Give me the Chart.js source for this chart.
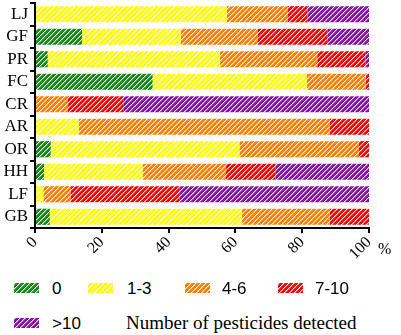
<!DOCTYPE html>
<html>
<head>
<meta charset="utf-8">
<script src="https://cdn.jsdelivr.net/npm/chart.js@4"></script>
<style>
  body { margin: 0; background: #fff; }
  #wrap { position: relative; width: 401px; height: 335px; }
  #chart { position: absolute; left: 0; top: 0; }
  .lg { position: absolute; font: 17px "Liberation Sans", Arial, sans-serif; color: #000; line-height: 17px; }
  .sw { position: absolute; width: 25px; height: 10px; }
  .serif { font-family: "Liberation Serif", "Times New Roman", serif; }
</style>
</head>
<body>
<div id="wrap">
  <canvas id="chart" width="401" height="265"></canvas>
  <div class="lg serif" style="left:378px; top:240px; font-size:16px;">%</div>
  <div id="legend"></div>
</div>
<script>
const sites = ['LJ', 'GF', 'PR', 'FC', 'CR', 'AR', 'OR', 'HH', 'LF', 'GB'];
const groups = ['0', '1-3', '4-6', '7-10', '>10'];
const colors = ['#138a13', '#ffff00', '#ff8000', '#ff0000', '#8a10a8'];

// percent of samples per site, for each number-of-pesticides group
const zero     = [0,    14.1, 3.8,  35.2, 0,    0,    4.7,  2.7,  0,    4.4];
const oneThree = [57.4, 29.5, 51.6, 46.2, 0,    13.1, 56.5, 29.5, 2.5,  57.6];
const fourSix  = [18.2, 23.0, 29.1, 17.6, 9.9,  75.2, 35.8, 25.0, 8.1,  26.3];
const sevenTen = [6.0,  21.0, 14.5, 1.0,  16.7, 11.7, 3.0,  14.8, 32.6, 11.7];
const overTen  = [18.4, 12.4, 1.0,  0,    73.4, 0,    0,    28.0, 56.8, 0];
const xTicks = [0, 20, 40, 60, 80, 100];

const seriesData = [zero, oneThree, fourSix, sevenTen, overTen];

// diagonal white hatch on a solid colour
function makeTile(color) {
    const n = 5;
    const c = document.createElement('canvas');
    c.width = n; c.height = n;
    const g = c.getContext('2d');
    g.fillStyle = color;
    g.fillRect(0, 0, n, n);
    for (let x = 0; x < n; x++) {
        for (let y = 0; y < n; y++) {
            const k = (x + y) % n;
            if (k === 0) {
                g.fillStyle = 'rgba(255,255,255,0.95)';
                g.fillRect(x, y, 1, 1);
            } else if (k === 1) {
                g.fillStyle = 'rgba(255,255,255,0.35)';
                g.fillRect(x, y, 1, 1);
            }
        }
    }
    return c;
}

const ctx = document.getElementById('chart').getContext('2d');
const patterns = colors.map(col => ctx.createPattern(makeTile(col), 'repeat'));

new Chart(ctx, {
    type: 'bar',
    data: {
        labels: sites,
        datasets: seriesData.map((d, i) => ({
            label: groups[i],
            data: d,
            backgroundColor: patterns[i],
            borderWidth: 0,
            categoryPercentage: 1,
            barPercentage: 0.72
        }))
    },
    options: {
        indexAxis: 'y',
        responsive: false,
        animation: false,
        layout: { padding: { top: 3, right: 32, left: 0, bottom: 0 } },
        plugins: { legend: { display: false }, tooltip: { enabled: false } },
        scales: {
            x: {
                stacked: true,
                min: 0,
                max: 100,
                afterBuildTicks: scale => { scale.ticks = xTicks.map(v => ({ value: v })); },
                afterFit: scale => { scale.height = 37; },
                border: { color: '#000', width: 2 },
                grid: { drawOnChartArea: false, color: '#000', lineWidth: 2, tickLength: 5 },
                ticks: {
                    color: '#000',
                    minRotation: 45,
                    maxRotation: 45,
                    padding: 0,
                    font: { family: 'Liberation Serif', size: 16 }
                }
            },
            y: {
                stacked: true,
                afterFit: scale => {
                    scale.width = 35;
                    scale.paddingTop = 0;
                    scale.paddingBottom = 0;
                },
                border: { color: '#000', width: 2 },
                grid: { drawOnChartArea: false, color: '#000', lineWidth: 2, tickLength: 5 },
                ticks: {
                    color: '#000',
                    autoSkip: false,
                    padding: 2,
                    font: { family: 'Liberation Serif', size: 17 }
                }
            }
        }
    }
});

// legend below the chart
const legend = document.getElementById('legend');
const legendPos = [
    { sx: 14, tx: 52, y: 283 },
    { sx: 88, tx: 127, y: 283 },
    { sx: 185, tx: 222, y: 283 },
    { sx: 278, tx: 315, y: 283 },
    { sx: 14, tx: 52, y: 318 }
];
groups.forEach((g, i) => {
    const p = legendPos[i];
    const sw = document.createElement('canvas');
    sw.className = 'sw';
    sw.width = 25; sw.height = 10;
    sw.style.left = p.sx + 'px';
    sw.style.top = p.y + 'px';
    const sctx = sw.getContext('2d');
    sctx.fillStyle = sctx.createPattern(makeTile(colors[i]), 'repeat');
    sctx.fillRect(0, 0, 25, 10);
    legend.appendChild(sw);
    const t = document.createElement('div');
    t.className = 'lg';
    t.textContent = g;
    t.style.left = p.tx + 'px';
    t.style.top = (p.y - 3) + 'px';
    legend.appendChild(t);
});
const title = document.createElement('div');
title.className = 'lg serif';
title.style.left = '126px';
title.style.top = '314px';
title.style.fontSize = '19px';
title.textContent = 'Number of pesticides detected';
legend.appendChild(title);
</script>
</body>
</html>
